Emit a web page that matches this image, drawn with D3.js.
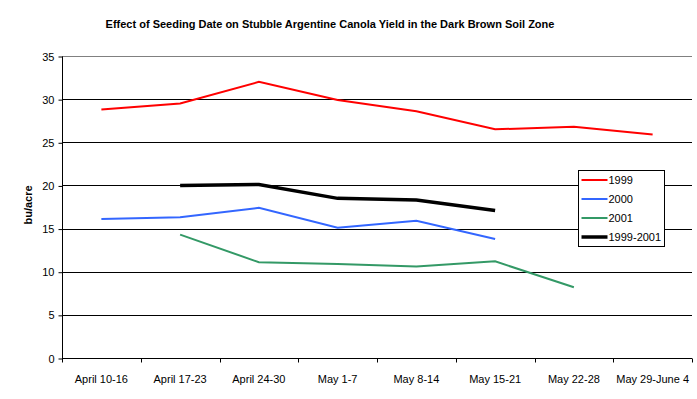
<!DOCTYPE html>
<html>
<head>
<meta charset="utf-8">
<script src="https://cdn.jsdelivr.net/npm/d3@7"></script>
<style>
  body { margin: 0; background: #fff; }
  text { font-family: Arial, "Liberation Sans", sans-serif; }
</style>
</head>
<body>
<svg width="697" height="399"></svg>
<script>
// categories and series
var weeks = ["April 10-16", "April 17-23", "April 24-30", "May 1-7", "May 8-14", "May 15-21", "May 22-28", "May 29-June 4"];
var y1999 = [28.8, 29.5, 32.0, 29.9, 28.6, 26.5, 26.8, 25.9];
var y2000 = [16.1, 16.3, 17.4, 15.1, 15.9, 13.8, null, null];
var y2001 = [null, 14.3, 11.1, 10.9, 10.6, 11.2, 8.2, null];
var yAvg = [null, 20.0, 20.1, 18.5, 18.3, 17.1, null, null];
var yTicks = [0, 5, 10, 15, 20, 25, 30, 35];

var series = [
  {name: "1999", values: y1999, color: "#ff0000", width: 2},
  {name: "2000", values: y2000, color: "#3366ff", width: 2},
  {name: "2001", values: y2001, color: "#339966", width: 2},
  {name: "1999-2001", values: yAvg, color: "#000000", width: 3.5}
];

var svg = d3.select("svg");
var plotLeft = 62, plotRight = 692, plotTop = 56, plotBottom = 358;

var x = d3.scaleBand().domain(weeks).range([plotLeft, plotRight]);
var y = d3.scaleLinear().domain([0, 35]).range([plotBottom, plotTop]);

//title
svg.append("text")
    .attr("x", 330).attr("y", 28)
    .attr("text-anchor", "middle")
    .style("font-size", "11px").style("font-weight", "bold")
    .text("Effect of Seeding Date on Stubble Argentine Canola Yield in the Dark Brown Soil Zone");

//gridlines
svg.append("g").selectAll("line")
    .data(yTicks.filter(function(d) { return d > 0; }))
    .enter().append("line")
    .attr("x1", plotLeft).attr("x2", plotRight)
    .attr("y1", function(d) { return Math.round(y(d)) + 0.5; })
    .attr("y2", function(d) { return Math.round(y(d)) + 0.5; })
    .attr("stroke", function(d) { return d == 35 ? "#808080" : "#000"; })
    .attr("stroke-width", 1);

//y axis
var yAxis = d3.axisLeft(y).tickValues(yTicks).tickSize(4).tickPadding(4);
var gy = svg.append("g").attr("transform", "translate(" + (plotLeft + 0.5) + ",0.5)").call(yAxis);
gy.selectAll("text").style("font-size", "11px").attr("fill", "#000");
gy.select(".domain").attr("d", "M0," + plotTop + "V" + plotBottom);

//x axis, ticks at the band edges
var xAxis = d3.axisBottom(x).tickSize(0).tickPadding(17);
var gx = svg.append("g").attr("transform", "translate(0," + (plotBottom + 0.5) + ")").call(xAxis);
gx.selectAll("text").style("font-size", "11px").attr("fill", "#000");
gx.select(".domain").attr("d", "M" + plotLeft + ",0H" + plotRight);
gx.selectAll(".edge")
    .data(weeks.concat(["end"]))
    .enter().append("line")
    .attr("class", "edge")
    .attr("x1", function(d, i) { return Math.round(plotLeft + i * x.bandwidth()) + 0.5; })
    .attr("x2", function(d, i) { return Math.round(plotLeft + i * x.bandwidth()) + 0.5; })
    .attr("y1", 0).attr("y2", 4)
    .attr("stroke", "#000");

//y label
svg.append("text")
    .attr("transform", "translate(32,205) rotate(-90)")
    .attr("text-anchor", "middle")
    .style("font-size", "11px").style("font-weight", "bold")
    .text("bu/acre");

//lines
var line = d3.line()
    .defined(function(d) { return d != null; })
    .x(function(d, i) { return x(weeks[i]) + x.bandwidth() / 2; })
    .y(function(d) { return y(d); });

svg.append("g").selectAll("path")
    .data(series)
    .enter().append("path")
    .attr("d", function(d) { return line(d.values); })
    .attr("fill", "none")
    .attr("stroke", function(d) { return d.color; })
    .attr("stroke-width", function(d) { return d.width; });

//legend
var lg = svg.append("g").attr("transform", "translate(578.5,170.5)");
lg.append("rect").attr("width", 86).attr("height", 76)
    .attr("fill", "#fff").attr("stroke", "#000");
var item = lg.selectAll(".item").data(series).enter().append("g")
    .attr("class", "item")
    .attr("transform", function(d, i) { return "translate(0," + (9.5 + i * 19) + ")"; });
item.append("line").attr("x1", 3).attr("x2", 29)
    .attr("stroke", function(d) { return d.color; })
    .attr("stroke-width", function(d) { return d.width; });
item.append("text").attr("x", 30).attr("y", 4)
    .style("font-size", "11px")
    .text(function(d) { return d.name; });
</script>
</body>
</html>
